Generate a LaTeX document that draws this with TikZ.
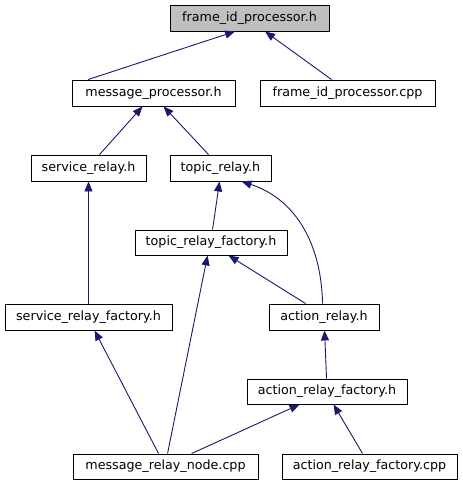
\documentclass[tikz,border=0pt]{standalone}
\usepackage{fontspec}
\setmainfont{DejaVu Sans}
\usetikzlibrary{arrows.meta,calc}
\definecolor{edgeblue}{HTML}{191970}
\definecolor{boxgray}{HTML}{BFBFBF}
\begin{document}
\begin{tikzpicture}[x=1pt,y=-1pt,
  filebox/.style={draw=black,line width=0.9pt,fill=white,minimum height=26pt,inner sep=0pt,font=\fontsize{12.7}{14}\selectfont},
  dep/.style={draw=edgeblue,line width=0.9pt,-{Triangle[length=10pt,width=8pt]}}]
\useasboundingbox[fill=white] (0,0) rectangle (463,485);
\node[filebox,fill=boxgray,minimum width=159pt] (fip) at (249.5,18) {frame\_id\_processor.h};
\node[filebox,minimum width=163pt] (mp) at (153.5,93) {message\_processor.h};
\node[filebox,minimum width=175pt] (fipc) at (347.5,93) {frame\_id\_processor.cpp};
\node[filebox,minimum width=115pt] (sr) at (88.5,168) {service\_relay.h};
\node[filebox,minimum width=101pt] (tr) at (220.5,168) {topic\_relay.h};
\node[filebox,minimum width=152pt,minimum height=25pt] (trf) at (211,242.5) {topic\_relay\_factory.h};
\node[filebox,minimum width=167pt] (srf) at (88.5,317) {service\_relay\_factory.h};
\node[filebox,minimum width=110pt] (ar) at (324,317) {action\_relay.h};
\node[filebox,minimum width=160pt,minimum height=25pt] (arf) at (327,391.5) {action\_relay\_factory.h};
\node[filebox,minimum width=185pt,minimum height=25pt] (mrn) at (165.5,466.5) {message\_relay\_node.cpp};
\node[filebox,minimum width=175pt,minimum height=25pt] (arfc) at (369.5,466.5) {action\_relay\_factory.cpp};
% edges
\draw[dep] ([xshift=16.5pt]mp.north west) -- ([xshift=65.5pt]fip.south west);
\draw[dep] ([xshift=72pt]fipc.north west) -- ([xshift=95.5pt]fip.south west);
\draw[dep] ([xshift=69pt]sr.north west) -- ([xshift=71pt]mp.south west);
\draw[dep] ([xshift=39pt]tr.north west) -- ([xshift=92pt]mp.south west);
\draw[dep] (srf.north) -- (sr.south);
\draw[dep] ([xshift=78pt]trf.north west) -- ([xshift=50pt]tr.south west);
\draw[dep] ([xshift=54pt]ar.north west) .. controls ([xshift=53pt,yshift=54pt]ar.north west) and ([xshift=130pt,yshift=-19pt]tr.south west) .. ([xshift=72pt]tr.south west);
\draw[dep] ([xshift=37pt]ar.north west) -- ([xshift=94pt]trf.south west);
\draw[dep] ([xshift=86pt]mrn.north west) -- ([xshift=90pt]srf.south west);
\draw[dep] ([xshift=95pt]mrn.north west) -- ([xshift=73pt]trf.south west);
\draw[dep] ([xshift=119pt]mrn.north west) -- ([xshift=53pt]arf.south west);
\draw[dep] ([xshift=80pt]arf.north west) -- ([xshift=56pt]ar.south west);
\draw[dep] ([xshift=81pt]arfc.north west) -- ([xshift=87pt]arf.south west);
\end{tikzpicture}
\end{document}
